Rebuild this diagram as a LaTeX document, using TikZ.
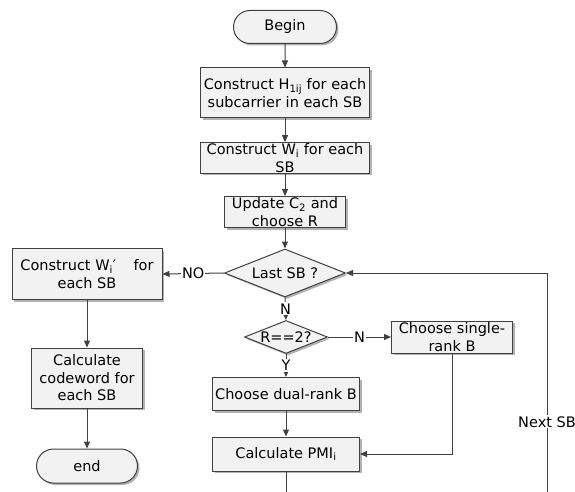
\documentclass[tikz,border=0pt]{standalone}
\usepackage{fontspec}
\setmainfont{DejaVu Sans}
\usepackage{tikz}
\usetikzlibrary{shapes.geometric,shapes.misc,shadows,arrows.meta}

\definecolor{linegray}{HTML}{404040}
\definecolor{boxgray}{HTML}{F2F2F2}

\tikzset{
  proc/.style={rectangle, draw=linegray, fill=boxgray, line width=1pt,
    align=center, inner sep=1pt, font=\fontsize{14.5}{17.5}\selectfont,
    drop shadow={shadow xshift=2pt, shadow yshift=-2pt, fill=black!30, opacity=1}},
  term/.style={proc, rounded rectangle},
  cond/.style={proc, diamond, aspect=2.5, inner sep=0pt},
  flow/.style={draw=linegray, line width=1pt, -{Triangle[length=7pt,width=6pt]}},
  lbl/.style={fill=white, inner sep=1pt, font=\fontsize{14.5}{17.5}\selectfont}
}

\begin{document}
\begin{tikzpicture}[x=1pt,y=-1pt]
      \useasboundingbox (0,0) rectangle (575,492);
      % Nodes
      % main column
      \node[term, minimum width=105pt, minimum height=33pt] (begin) at (285,27) {Begin};
      \node[proc, minimum width=169pt, minimum height=50pt] (H) at (285,93)
        {Construct H\textsubscript{1ij} for each\\subcarrier in each SB};
      \node[proc, minimum width=169pt, minimum height=30pt] (W) at (285,158)
        {Construct W\textsubscript{i} for each\\SB};
      \node[proc, minimum width=121pt, minimum height=31pt] (upd) at (285,212)
        {Update C\textsubscript{2} and\\choose R};
      \node[cond, minimum width=121pt, minimum height=48pt] (last) at (285,273) {Last SB ?};
      \node[cond, minimum width=83pt, minimum height=33pt] (rank) at (286,337) {R==2?};
      \node[proc, minimum width=121pt, minimum height=32pt] (single) at (452,337)
        {Choose single-\\rank B};
      \node[proc, minimum width=147pt, minimum height=33pt] (dual) at (286,394) {Choose dual-rank B};
      \node[proc, minimum width=147pt, minimum height=34pt] (pmi) at (286,454)
        {Calculate PMI\textsubscript{i}};
      % left column
      \node[proc, minimum width=150pt, minimum height=51pt] (Wp) at (87,274)
        {Construct W\textsubscript{i}′\hspace{1.2em}for\\each SB};
      \node[proc, minimum width=111pt, minimum height=60pt] (code) at (87,378)
        {Calculate\\codeword for\\each SB};
      \node[term, minimum width=103pt, minimum height=34pt] (end) at (87,466) {end};
      % loop corners (below the visible part)
      \coordinate (loopb) at (286,510);
      \coordinate (loopr) at (547,510);
      % Edges
      \draw[flow] (begin) -- (H);
      \draw[flow] (H) -- (W);
      \draw[flow] (W) -- (upd);
      \draw[flow] (upd) -- (last);
      \draw[flow] (last.west) -- node[lbl] {NO} (Wp.east);
      \draw[flow] (last.south) -- node[lbl] {N} (rank.north);
      \draw[flow] (rank.east) -- node[lbl] {N} (single.west);
      \draw[flow] (rank.south) -- node[lbl] {Y} (dual.north);
      \draw[flow] (dual) -- (pmi);
      \draw[flow] (single.south) |- (pmi.east);
      \draw[flow] (pmi.south) -- (loopb) -- (loopr) |- node[lbl, pos=0.186] {Next SB} (last.east);
      \draw[flow] (Wp) -- (code);
      \draw[flow] (code) -- (end);
\end{tikzpicture}
\end{document}
